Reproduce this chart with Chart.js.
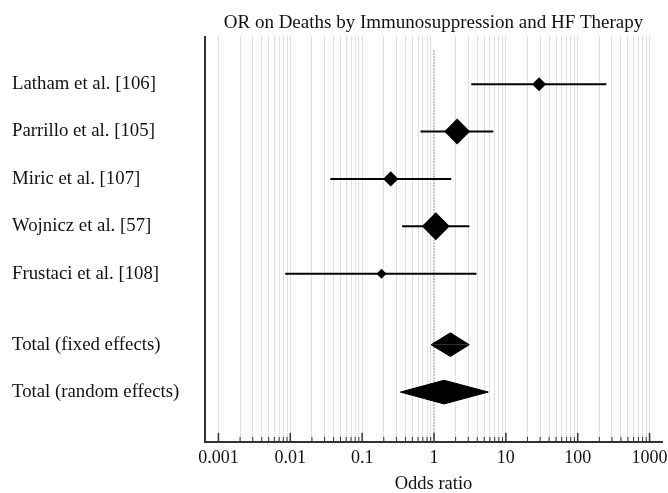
<!DOCTYPE html>
<html>
<head>
<meta charset="utf-8">
<script src="https://cdn.jsdelivr.net/npm/chart.js@4.4.0/dist/chart.umd.min.js"></script>
<style>
  html, body { margin: 0; padding: 0; background: #fff; }
  #wrap { width: 668px; height: 493px; }
</style>
</head>
<body>
<div id="wrap"><canvas id="forest"></canvas></div>
<script>
const studies = ['Latham et al. [106]', 'Parrillo et al. [105]', 'Miric et al. [107]', 'Wojnicz et al. [57]', 'Frustaci et al. [108]'];
const studyOR = [29, 2.1, 0.25, 1.06, 0.186];
const studyLow = [3.3, 0.65, 0.036, 0.36, 0.0085];
const studyHigh = [250, 6.7, 1.74, 3.1, 3.9];
const studyWeight = [9.8, 33.9, 11.9, 39.4, 5.0]; // % weight

const pooled = ['Total (fixed effects)', 'Total (random effects)'];
const pooledOR = [1.69, 1.38];
const pooledLow = [0.91, 0.34];
const pooledHigh = [3.1, 5.7];

const decades = [0.001, 0.01, 0.1, 1, 10, 100, 1000];
const decadeLabels = ['0.001', '0.01', '0.1', '1', '10', '100', '1000'];

const serif = '"Liberation Serif", "Times New Roman", serif';

// every 1..9 step inside each decade, last decade only its own tick
const xTickValues = [];
decades.forEach((d, i) => {
  if (i === decades.length - 1) { xTickValues.push(d); return; }
  for (let k = 1; k <= 9; k++) xTickValues.push(k === 1 ? d : +(d * k).toPrecision(3));
});

const studyRows = studies.map((s, i) => i);
const pooledRows = pooled.map((s, i) => studies.length + 0.5 + i);
const rowValues = studyRows.concat(pooledRows);
const rowLabels = studies.concat(pooled);

const datasets = [];

// study point estimates
datasets.push({
  data: studyOR.map((v, i) => ({ x: v, y: studyRows[i] })),
  pointStyle: 'rectRot',
  pointRadius: studyWeight.map(w => Math.sqrt(w) * 2.23),
  pointBackgroundColor: '#000',
  pointBorderWidth: 0,
  showLine: false,
  order: 0
});

// confidence intervals
studies.forEach((s, i) => {
  datasets.push({
    data: [{ x: studyLow[i], y: studyRows[i] }, { x: studyHigh[i], y: studyRows[i] }],
    showLine: true,
    borderColor: '#000',
    borderWidth: 2,
    pointRadius: 0,
    order: 1
  });
});

// pooled diamonds, upper and lower half filled to the row line
const half = 0.25;
pooled.forEach((p, i) => {
  [-half, half].forEach(h => {
    datasets.push({
      data: [
        { x: pooledLow[i], y: pooledRows[i] },
        { x: pooledOR[i], y: pooledRows[i] + h },
        { x: pooledHigh[i], y: pooledRows[i] }
      ],
      showLine: true,
      borderColor: '#000',
      borderWidth: 1,
      backgroundColor: '#000',
      fill: { value: pooledRows[i] },
      pointRadius: 0,
      tension: 0,
      order: 0
    });
  });
});

// line of no effect
datasets.push({
  data: [{ x: 1, y: -0.72 }, { x: 1, y: 7.55 }],
  showLine: true,
  borderColor: '#8a8a8a',
  borderWidth: 1,
  borderDash: [2, 1],
  pointRadius: 0,
  order: 2
});

const innerTicks = {
  id: 'innerTicks',
  afterDatasetsDraw(chart) {
    const s = chart.scales.x;
    const ctx = chart.ctx;
    const bottom = chart.chartArea.bottom;
    ctx.save();
    ctx.strokeStyle = '#333';
    s.ticks.forEach(t => {
      const major = decades.includes(t.value);
      const px = s.getPixelForValue(t.value);
      ctx.lineWidth = major ? 1.5 : 1;
      ctx.beginPath();
      ctx.moveTo(px, bottom);
      ctx.lineTo(px, bottom - (major ? 9 : 5));
      ctx.stroke();
    });
    ctx.restore();
  }
};

new Chart(document.getElementById('forest'), {
  type: 'scatter',
  data: { datasets },
  plugins: [innerTicks],
  options: {
    responsive: true,
    maintainAspectRatio: false,
    animation: false,
    layout: { autoPadding: false, padding: { left: 12, right: 6, top: 0, bottom: 0 } },
    plugins: { legend: { display: false }, tooltip: { enabled: false } },
    scales: {
      x: {
        type: 'logarithmic',
        position: 'bottom',
        min: 0.00065,
        max: 1490,
        afterBuildTicks: s => { s.ticks = xTickValues.map(v => ({ value: v })); },
        afterFit: s => { s.paddingLeft = 0; s.paddingRight = 0; },
        ticks: {
          autoSkip: false,
          maxRotation: 0,
          padding: 6,
          color: '#111',
          font: { family: serif, size: 18, lineHeight: 1.2 },
          callback: v => {
            const i = decades.indexOf(v);
            return i >= 0 ? decadeLabels[i] : '';
          }
        },
        grid: {
          drawTicks: false,
          lineWidth: 1,
          color: c => (c.tick && c.tick.value === 1) ? 'rgba(0,0,0,0)' : '#c2c2c2'
        },
        border: { display: true, color: '#333', width: 2, dash: [1, 1] },
        title: {
          display: true,
          text: 'Odds ratio',
          color: '#111',
          font: { family: serif, size: 18.5, lineHeight: 0.95 },
          padding: { top: 0, bottom: 0 }
        }
      },
      x2: {
        type: 'linear',
        position: 'top',
        min: 0,
        max: 1,
        grid: { display: false, drawTicks: false },
        border: { display: false },
        ticks: { display: false },
        title: {
          display: true,
          text: 'OR on Deaths by Immunosuppression and HF Therapy',
          color: '#111',
          font: { family: serif, size: 19, lineHeight: 1.2 },
          padding: { top: 12, bottom: 2 }
        }
      },
      y: {
        type: 'linear',
        min: -1,
        max: 7.55,
        reverse: true,
        afterBuildTicks: s => { s.ticks = rowValues.map(v => ({ value: v })); },
        afterFit: s => { s.width = 193; },
        ticks: {
          autoSkip: false,
          crossAlign: 'far',
          color: '#111',
          font: { family: serif, size: 18.8 },
          callback: (v, i) => rowLabels[i]
        },
        grid: { drawOnChartArea: false, drawTicks: false },
        border: { display: true, color: '#333', width: 2 }
      }
    }
  }
});
</script>
</body>
</html>
